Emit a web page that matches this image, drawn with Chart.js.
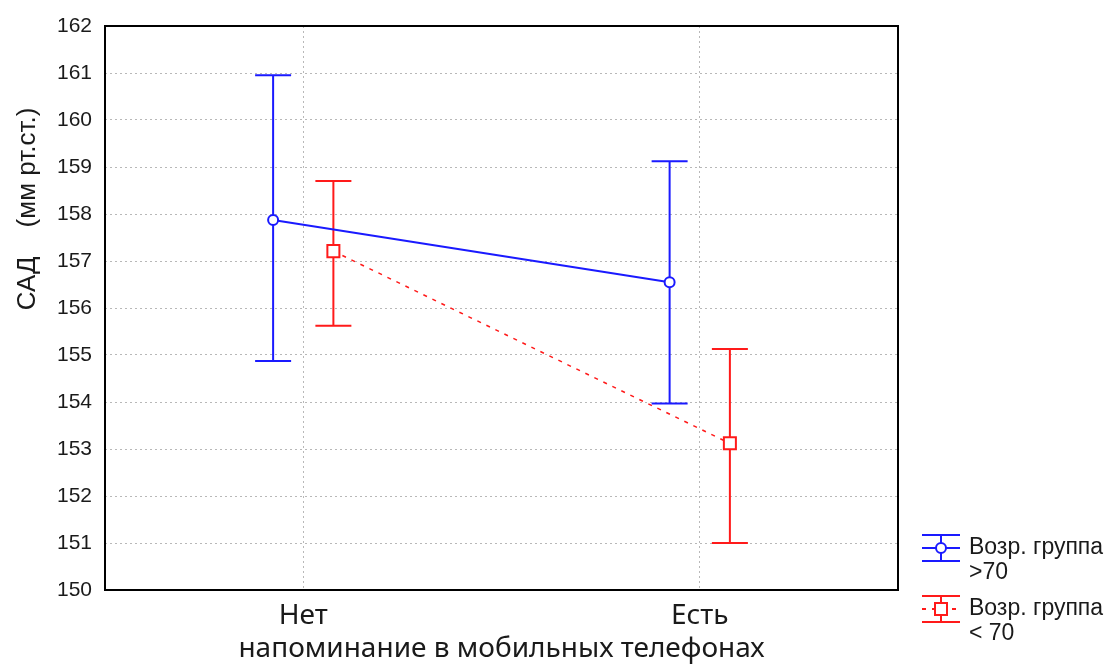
<!DOCTYPE html>
<html>
<head>
<meta charset="utf-8">
<script src="https://cdn.jsdelivr.net/npm/chart.js@4"></script>
<style>
    html, body { margin: 0; padding: 0; background: #fff; }
    #wrap { width: 1111px; height: 666px; }
</style>
</head>
<body>
<div id="wrap"><canvas id="sadChart" width="1111" height="666"></canvas></div>
<script>
// Categories and values
const categories = ['Нет', 'Есть'];
const yTicks = [150, 151, 152, 153, 154, 155, 156, 157, 158, 159, 160, 161, 162];

// Возр. группа >70
const olderMean = [157.87, 156.55];
const olderUpper = [160.95, 159.12];
const olderLower = [154.87, 153.97];

// Возр. группа < 70
const youngerMean = [157.21, 153.12];
const youngerUpper = [158.70, 155.13];
const youngerLower = [155.62, 151.00];

const groupShift = 0.076; // horizontal offset of the two groups around each category

function toPoints(means, shift) {
    return means.map((m, i) => ({ x: i + shift, y: m }));
}

// Error bars drawn from the dataset's own limits via the chart scales
const errorBars = {
    id: 'errorBars',
    beforeDatasetsDraw(chart) {
        const ctx = chart.ctx;
        const xs = chart.scales.x, ys = chart.scales.y;
        chart.data.datasets.forEach((ds) => {
            ctx.save();
            ctx.strokeStyle = ds.borderColor;
            ctx.lineWidth = 2;
            ds.data.forEach((p, i) => {
                const x = xs.getPixelForValue(p.x);
                const yTop = ys.getPixelForValue(ds.upper[i]);
                const yBot = ys.getPixelForValue(ds.lower[i]);
                ctx.beginPath();
                ctx.moveTo(x, yTop); ctx.lineTo(x, yBot);
                ctx.moveTo(x - 18, yTop); ctx.lineTo(x + 18, yTop);
                ctx.moveTo(x - 18, yBot); ctx.lineTo(x + 18, yBot);
                ctx.stroke();
            });
            ctx.restore();
        });
    }
};

// Frame, y title and the legend in the bottom-right corner
const decorations = {
    id: 'decorations',
    afterDraw(chart) {
        const ctx = chart.ctx;
        const a = chart.chartArea;
        ctx.save();
        ctx.strokeStyle = '#000';
        ctx.lineWidth = 2;
        ctx.strokeRect(a.left, a.top, a.right - a.left, a.bottom - a.top);

        // y axis title
        ctx.translate(28, 209);
        ctx.rotate(-Math.PI / 2);
        ctx.fillStyle = '#1a1a1a';
        ctx.font = '26px "Liberation Sans", Arial, sans-serif';
        ctx.textAlign = 'center';
        ctx.textBaseline = 'middle';
        ctx.fillText('САД    (мм рт.ст.)', 0, 0);
        ctx.restore();

        // legend
        const items = [
            { ds: chart.data.datasets[0], y: 548, lines: ['Возр. группа', '>70'] },
            { ds: chart.data.datasets[1], y: 609, lines: ['Возр. группа', '< 70'] }
        ];
        items.forEach((it) => {
            const cx = 941;
            ctx.save();
            ctx.strokeStyle = it.ds.borderColor;
            ctx.lineWidth = 2;
            ctx.beginPath();
            ctx.moveTo(cx - 19, it.y - 13); ctx.lineTo(cx + 19, it.y - 13);
            ctx.moveTo(cx - 19, it.y + 13); ctx.lineTo(cx + 19, it.y + 13);
            ctx.moveTo(cx, it.y - 13); ctx.lineTo(cx, it.y + 13);
            ctx.stroke();
            ctx.beginPath();
            ctx.setLineDash(it.ds.borderDash || []);
            ctx.moveTo(cx - 19, it.y); ctx.lineTo(cx + 19, it.y);
            ctx.stroke();
            ctx.setLineDash([]);
            ctx.fillStyle = '#fff';
            ctx.beginPath();
            if (it.ds.pointStyle === 'rect') {
                ctx.rect(cx - 6, it.y - 6, 12, 12);
            } else {
                ctx.arc(cx, it.y, 5, 0, Math.PI * 2);
            }
            ctx.fill();
            ctx.stroke();
            ctx.fillStyle = '#1a1a1a';
            ctx.font = '23px "Liberation Sans", Arial, sans-serif';
            ctx.textBaseline = 'middle';
            ctx.fillText(it.lines[0], 969, it.y);
            ctx.fillText(it.lines[1], 969, it.y + 25);
            ctx.restore();
        });
    }
};

new Chart(document.getElementById('sadChart'), {
    type: 'scatter',
    data: {
        datasets: [{
            label: 'Возр. группа >70',
            data: toPoints(olderMean, -groupShift),
            upper: olderUpper,
            lower: olderLower,
            showLine: true,
            borderColor: '#1a1aff',
            borderWidth: 2,
            pointStyle: 'circle',
            pointRadius: 5,
            pointBorderWidth: 2,
            pointBackgroundColor: '#fff'
        }, {
            label: 'Возр. группа < 70',
            data: toPoints(youngerMean, groupShift),
            upper: youngerUpper,
            lower: youngerLower,
            showLine: true,
            borderColor: '#ff1a1a',
            borderWidth: 1.5,
            borderDash: [4, 6],
            pointStyle: 'rect',
            pointRadius: 8.5,
            pointBorderWidth: 2,
            pointBackgroundColor: '#fff'
        }]
    },
    options: {
        responsive: false,
        animation: false,
        layout: { padding: { top: 26, right: 213, left: 0, bottom: 0 } },
        plugins: {
            legend: { display: false },
            tooltip: { enabled: false }
        },
        scales: {
            x: {
                type: 'linear',
                min: -0.5,
                max: 1.5,
                afterBuildTicks: (axis) => {
                    axis.ticks = categories.map((c, i) => ({ value: i }));
                },
                afterFit: (axis) => { axis.height = 76; },
                ticks: {
                    callback: (v) => categories[v],
                    color: '#1a1a1a',
                    font: { family: '"Noto Sans", "Open Sans", sans-serif', size: 28 },
                    padding: 9
                },
                grid: { color: '#b8b8b8', lineWidth: 1, drawTicks: false },
                border: { display: false, dash: [2, 3] },
                title: {
                    display: true,
                    text: 'напоминание в мобильных телефонах',
                    color: '#1a1a1a',
                    font: { family: '"Noto Sans", "Open Sans", sans-serif', size: 28 },
                    padding: { top: -7, bottom: 0 }
                }
            },
            y: {
                min: 150,
                max: 162,
                afterBuildTicks: (axis) => {
                    axis.ticks = yTicks.map((v) => ({ value: v }));
                },
                afterFit: (axis) => { axis.width = 105; },
                ticks: {
                    color: '#1a1a1a',
                    font: { family: '"Liberation Sans", Arial, sans-serif', size: 21 },
                    padding: 13
                },
                grid: { color: '#b8b8b8', lineWidth: 1, drawTicks: false },
                border: { display: false, dash: [2, 3] }
            }
        }
    },
    plugins: [errorBars, decorations]
});
</script>
</body>
</html>
